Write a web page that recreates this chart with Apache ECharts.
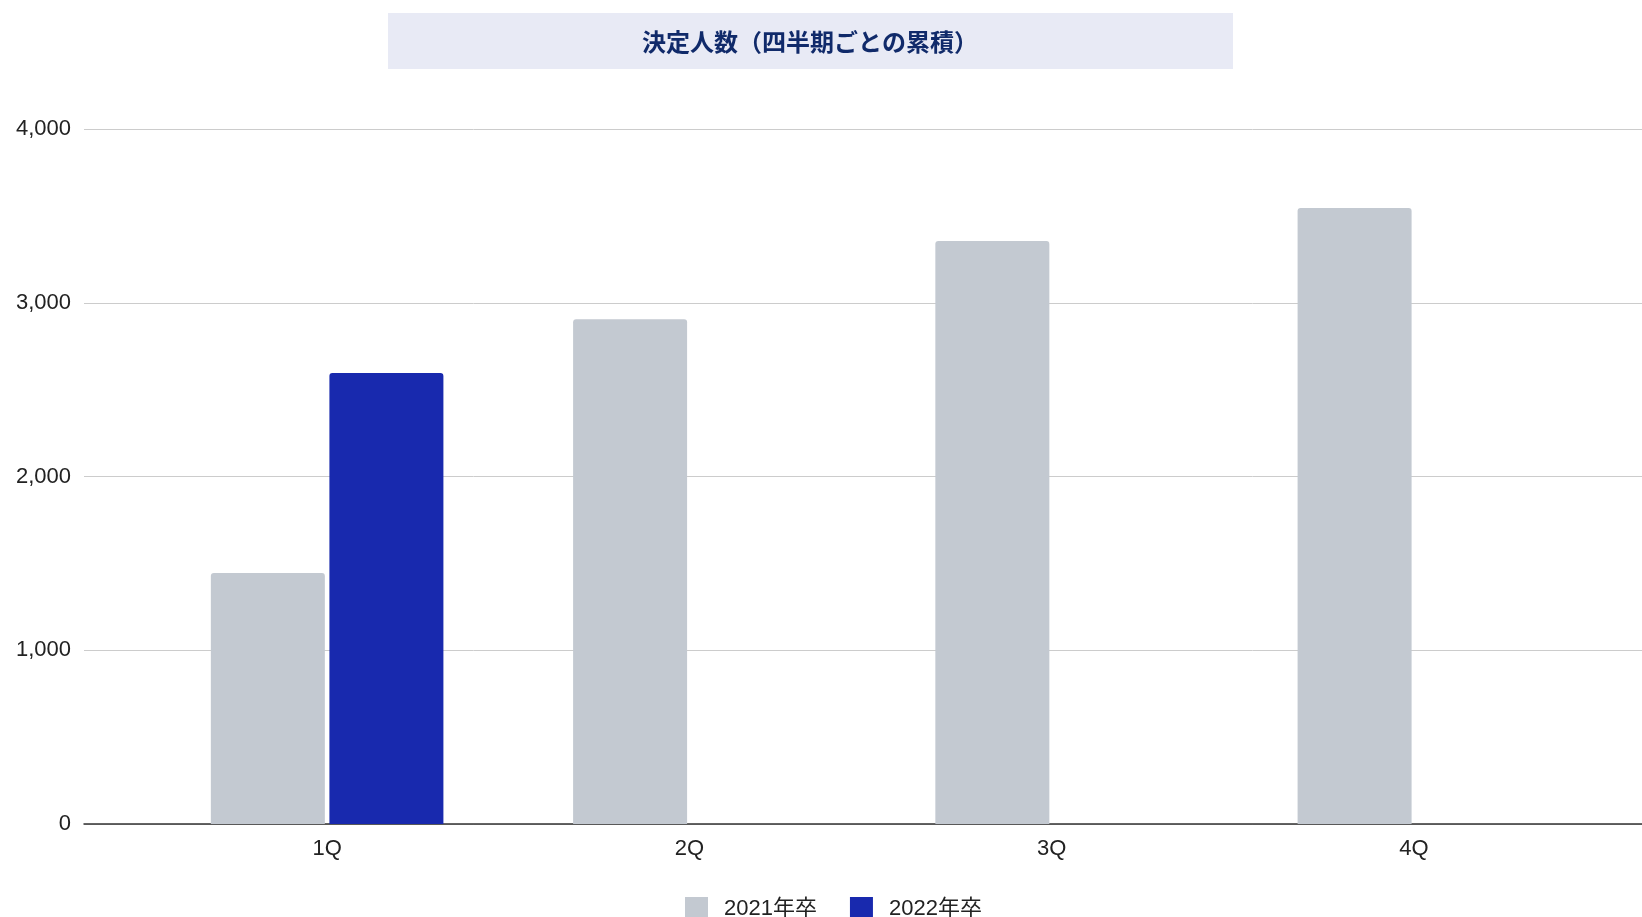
<!DOCTYPE html>
<html>
<head>
<meta charset="utf-8">
<script src="https://cdn.jsdelivr.net/npm/echarts@6/dist/echarts.min.js"></script>
<style>
html,body{margin:0;padding:0;background:#fff;}
#c{width:1642px;height:917px;}
</style>
</head>
<body>
<div id="c"></div>
<script>
const titleText = '決定人数（四半期ごとの累積）';
const categories = ['1Q', '2Q', '3Q', '4Q'];
const seriesNames = ['2021年卒', '2022年卒'];
const values2021 = [1445, 2905, 3355, 3545];
const values2022 = [2595, null, null, null];
const yTicks = [0, 1000, 2000, 3000, 4000];

const FONT = "'Liberation Sans', Arial, 'Noto Sans CJK JP', sans-serif";
const chart = echarts.init(document.getElementById('c'));
const yMin = yTicks[0], yMax = yTicks[yTicks.length - 1], yStep = yTicks[1] - yTicks[0];

chart.setOption({
  animation: false,
  backgroundColor: '#ffffff',
  graphic: [{
    type: 'rect', z: -1,
    shape: { x: 388, y: 13, width: 845, height: 56 },
    style: { fill: '#e8eaf5' }
  }],
  title: {
    text: titleText,
    left: 810, top: 30, textAlign: 'center', padding: 0,
    textStyle: { fontFamily: "'Noto Sans CJK JP', sans-serif", fontSize: 24, fontWeight: 'bold', color: '#102a6a' }
  },
  legend: {
    data: seriesNames,
    left: 680, top: 892,
    itemWidth: 23, itemHeight: 23, itemGap: 33,
    icon: 'rect',
    textStyle: { fontFamily: FONT, fontSize: 22, color: '#222', padding: [0, 0, 0, 11] }
  },
  grid: [
    { left: 84, right: 0, top: 129, bottom: 93 },
    { left: 146, right: 47, top: 129, bottom: 93 }
  ],
  xAxis: [
    { type: 'value', gridIndex: 0, min: 0, max: 1, axisLine: { show: true, onZero: true, lineStyle: { color: '#333', width: 1.5 } },
      axisTick: { show: false }, axisLabel: { show: false }, splitLine: { show: false } },
    { type: 'category', gridIndex: 1, data: categories, axisLine: { show: false }, axisTick: { show: false },
      axisLabel: { fontFamily: FONT, fontSize: 22, color: '#222', margin: 14 } }
  ],
  yAxis: [
    { type: 'value', gridIndex: 0, min: yMin, max: yMax, interval: yStep,
      axisLine: { show: false }, axisTick: { show: false },
      axisLabel: { fontFamily: FONT, fontSize: 22, color: '#222', margin: 13,
        formatter: v => v.toLocaleString('en-US') },
      splitLine: { lineStyle: { color: '#cccccc', width: 1 } } },
    { type: 'value', gridIndex: 1, min: yMin, max: yMax, interval: yStep, show: false, splitLine: { show: false } }
  ],
  series: [
    { name: seriesNames[0], type: 'bar', xAxisIndex: 1, yAxisIndex: 1, data: values2021,
      barWidth: 114, barGap: '4%', itemStyle: { color: '#c3c9d1', borderRadius: [3, 3, 0, 0] } },
    { name: seriesNames[1], type: 'bar', xAxisIndex: 1, yAxisIndex: 1, data: values2022,
      barWidth: 114, barGap: '4%', itemStyle: { color: '#1829ae', borderRadius: [3, 3, 0, 0] } }
  ]
});
</script>
</body>
</html>
